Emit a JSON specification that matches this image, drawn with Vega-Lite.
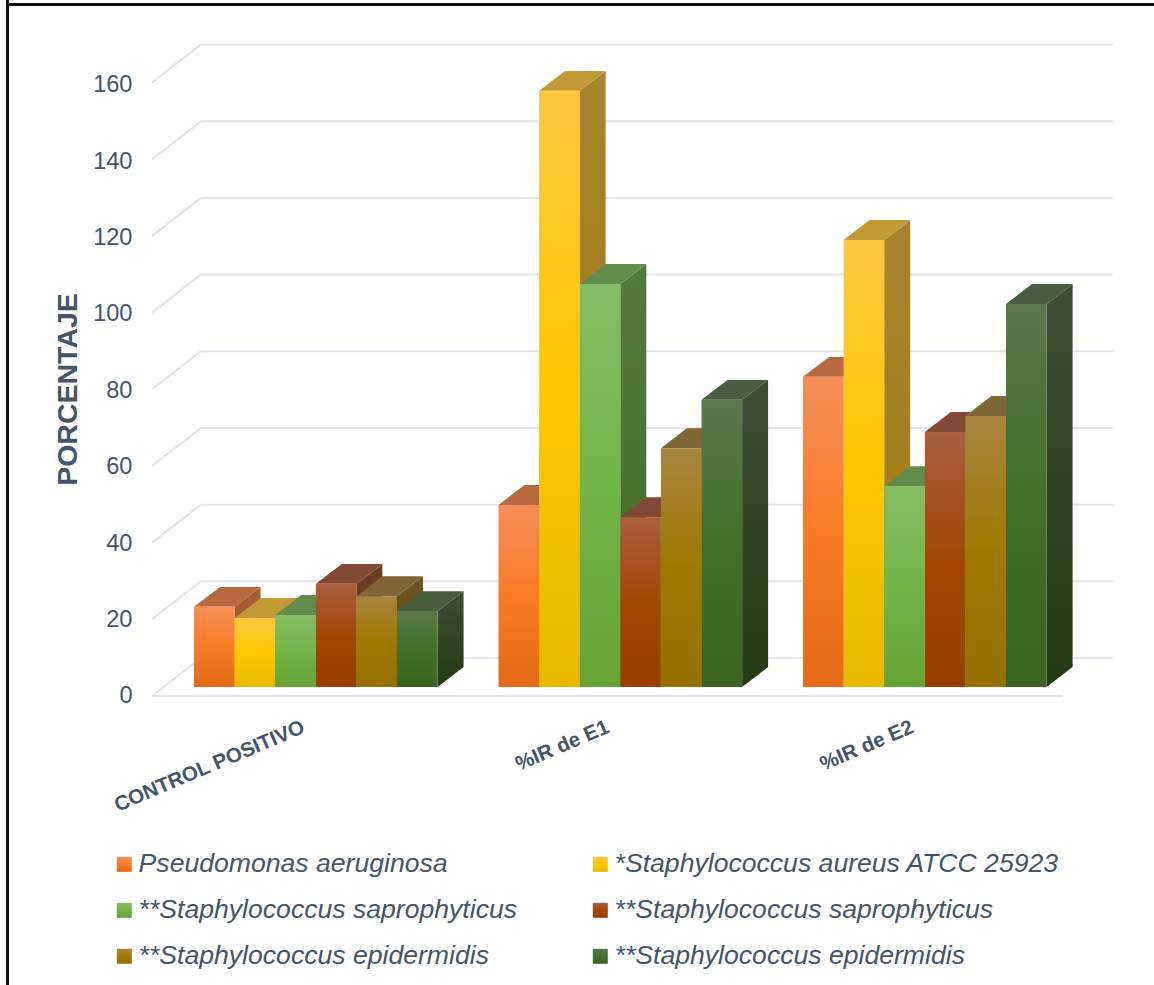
{
  "$schema": "https://vega.github.io/schema/vega-lite/v6.json",
  "width": 1154,
  "height": 985,
  "padding": 0,
  "autosize": {"type": "none"},
  "background": "white",
  "config": {"view": {"stroke": null}, "font": "Liberation Sans"},
  "resolve": {"axis": {"x": "independent", "y": "independent"}},
  "datasets": {
    "niveles": [
      {"nivel": 0}, {"nivel": 20}, {"nivel": 40}, {"nivel": 60}, {"nivel": 80},
      {"nivel": 100}, {"nivel": 120}, {"nivel": 140}, {"nivel": 160}
    ]
  },
  "data": {
    "values": [
      {"grupo": "CONTROL POSITIVO", "cepa": "pseudomonas", "porcentaje": 20.9},
      {"grupo": "CONTROL POSITIVO", "cepa": "aureus", "porcentaje": 18.0},
      {"grupo": "CONTROL POSITIVO", "cepa": "saprophyticus_a", "porcentaje": 18.8},
      {"grupo": "CONTROL POSITIVO", "cepa": "saprophyticus_b", "porcentaje": 26.9},
      {"grupo": "CONTROL POSITIVO", "cepa": "epidermidis_a", "porcentaje": 23.7},
      {"grupo": "CONTROL POSITIVO", "cepa": "epidermidis_b", "porcentaje": 19.8},
      {"grupo": "%IR de E1", "cepa": "pseudomonas", "porcentaje": 47.5},
      {"grupo": "%IR de E1", "cepa": "aureus", "porcentaje": 155.5},
      {"grupo": "%IR de E1", "cepa": "saprophyticus_a", "porcentaje": 105.1},
      {"grupo": "%IR de E1", "cepa": "saprophyticus_b", "porcentaje": 44.3},
      {"grupo": "%IR de E1", "cepa": "epidermidis_a", "porcentaje": 62.3},
      {"grupo": "%IR de E1", "cepa": "epidermidis_b", "porcentaje": 74.9},
      {"grupo": "%IR de E2", "cepa": "pseudomonas", "porcentaje": 80.9},
      {"grupo": "%IR de E2", "cepa": "aureus", "porcentaje": 116.6},
      {"grupo": "%IR de E2", "cepa": "saprophyticus_a", "porcentaje": 52.4},
      {"grupo": "%IR de E2", "cepa": "saprophyticus_b", "porcentaje": 66.5},
      {"grupo": "%IR de E2", "cepa": "epidermidis_a", "porcentaje": 70.7},
      {"grupo": "%IR de E2", "cepa": "epidermidis_b", "porcentaje": 99.9}
    ]
  },
  "transform": [
    {"calculate": "indexof(['CONTROL POSITIVO','%IR de E1','%IR de E2'], datum.grupo)", "as": "g"},
    {"calculate": "indexof(['pseudomonas','aureus','saprophyticus_a','saprophyticus_b','epidermidis_a','epidermidis_b'], datum.cepa)", "as": "s"},
    {"calculate": "7.5 * datum.g + datum.s", "as": "u0"},
    {"calculate": "datum.u0 + 1", "as": "u1"}
  ],
  "layer": [
    {
      "description": "Back wall gridlines",
      "data": {"name": "niveles"},
      "transform": [{"calculate": "datum.nivel + 7.56", "as": "fondo"}],
      "mark": {"type": "rule", "color": "#E1E4EC", "strokeWidth": 2},
      "encoding": {
        "x": {"datum": 0.17, "type": "quantitative", "scale": {"domain": [-4.7783, 23.645]}, "axis": null},
        "x2": {"datum": 22.635},
        "y": {"field": "fondo", "type": "quantitative", "scale": {"domain": [-77.73, 179.19]}, "axis": null}
      }
    },
    {
      "description": "Side wall gridlines running from the back wall to the front edge",
      "data": {"name": "niveles"},
      "transform": [
        {"calculate": "datum.nivel + 7.56", "as": "fondo"},
        {"calculate": "datum.nivel - 2.35", "as": "frente"}
      ],
      "mark": {"type": "rule", "color": "#E1E4EC", "strokeWidth": 2},
      "encoding": {
        "x": {"datum": -1.034, "type": "quantitative", "scale": {"domain": [-4.7783, 23.645]}, "axis": null},
        "x2": {"datum": 0.17},
        "y": {"field": "frente", "type": "quantitative", "scale": {"domain": [-77.73, 179.19]}, "axis": null},
        "y2": {"field": "fondo"}
      }
    },
    {
      "description": "Front edge of the floor",
      "mark": {"type": "rule", "color": "#E1E4EC", "strokeWidth": 2},
      "encoding": {
        "x": {"datum": -1.034, "type": "quantitative", "scale": {"domain": [-4.7783, 23.645]}, "axis": null},
        "x2": {"datum": 21.4},
        "y": {"datum": -2.35, "type": "quantitative", "scale": {"domain": [-77.73, 179.19]}, "axis": null}
      }
    },
    {
      "description": "Right-hand faces of the bars",
      "transform": [
        {"calculate": "[0, 1]", "as": "t"},
        {"flatten": ["t"]},
        {"calculate": "datum.u1 + 0.64 * datum.t", "as": "xs"},
        {"calculate": "5.2 * datum.t", "as": "ybase"},
        {"calculate": "datum.porcentaje + 5.2 * datum.t", "as": "ytop"}
      ],
      "mark": {"type": "area", "orient": "vertical", "line": false},
      "encoding": {
        "detail": {"field": "u0", "type": "quantitative"},
        "x": {"field": "xs", "type": "quantitative", "scale": {"domain": [-4.7783, 23.645]}, "axis": null},
        "y": {"field": "ytop", "type": "quantitative", "scale": {"domain": [-77.73, 179.19]}, "axis": null},
        "y2": {"field": "ybase"},
        "fill": {
          "condition": [
            {"test": "datum.s === 0", "value": {"gradient": "linear", "x1": 0, "y1": 0, "x2": 0, "y2": 1, "stops": [{"offset": 0, "color": "#A85E35"}, {"offset": 1, "color": "#9E4F14"}]}},
            {"test": "datum.s === 1", "value": {"gradient": "linear", "x1": 0, "y1": 0, "x2": 0, "y2": 1, "stops": [{"offset": 0, "color": "#A8842E"}, {"offset": 1, "color": "#A07A0C"}]}},
            {"test": "datum.s === 2", "value": {"gradient": "linear", "x1": 0, "y1": 0, "x2": 0, "y2": 1, "stops": [{"offset": 0, "color": "#557B3F"}, {"offset": 1, "color": "#3F6A22"}]}},
            {"test": "datum.s === 3", "value": {"gradient": "linear", "x1": 0, "y1": 0, "x2": 0, "y2": 1, "stops": [{"offset": 0, "color": "#6E3F2A"}, {"offset": 1, "color": "#5F2B00"}]}},
            {"test": "datum.s === 4", "value": {"gradient": "linear", "x1": 0, "y1": 0, "x2": 0, "y2": 1, "stops": [{"offset": 0, "color": "#6E5628"}, {"offset": 1, "color": "#5E4600"}]}}
          ],
          "value": {"gradient": "linear", "x1": 0, "y1": 0, "x2": 0, "y2": 1, "stops": [{"offset": 0, "color": "#3C4F34"}, {"offset": 1, "color": "#223C12"}]}
        }
      }
    },
    {
      "description": "Top faces of the bars",
      "transform": [
        {"calculate": "[0, 1]", "as": "t"},
        {"flatten": ["t"]},
        {"calculate": "datum.u0 + 0.64 * datum.t", "as": "xa"},
        {"calculate": "datum.u1 + 0.64 * datum.t", "as": "xb"},
        {"calculate": "datum.porcentaje + 5.2 * datum.t", "as": "ytop"}
      ],
      "mark": {"type": "area", "orient": "horizontal", "line": false},
      "encoding": {
        "detail": {"field": "u0", "type": "quantitative"},
        "x": {"field": "xa", "type": "quantitative", "scale": {"domain": [-4.7783, 23.645]}, "axis": null},
        "x2": {"field": "xb"},
        "y": {"field": "ytop", "type": "quantitative", "scale": {"domain": [-77.73, 179.19]}, "axis": null},
        "fill": {
          "condition": [
            {"test": "datum.s === 0", "value": "#B86A3E"},
            {"test": "datum.s === 1", "value": "#C29A35"},
            {"test": "datum.s === 2", "value": "#628C4C"},
            {"test": "datum.s === 3", "value": "#824A34"},
            {"test": "datum.s === 4", "value": "#7F6636"}
          ],
          "value": "#465E3E"
        }
      }
    },
    {
      "description": "Front faces of the bars; they also carry the axes and the legend",
      "mark": {"type": "rect"},
      "encoding": {
        "x": {
          "field": "u0",
          "type": "quantitative",
          "scale": {"domain": [-4.7783, 23.645]},
          "axis": {
            "orient": "bottom",
            "offset": -259,
            "title": null,
            "grid": false,
            "domain": false,
            "ticks": false,
            "values": [2.69, 10.19, 17.69],
            "labelExpr": "datum.value < 5 ? 'CONTROL POSITIVO' : datum.value < 15 ? '%IR de E1' : '%IR de E2'",
            "labelAngle": -23,
            "labelAlign": "right",
            "labelBaseline": "middle",
            "labelPadding": 0,
            "labelLimit": 400,
            "labelFont": "Liberation Sans",
            "labelFontSize": 20.6,
            "labelFontWeight": "bold",
            "labelColor": "#44546A",
            "labelOverlap": false,
            "labelBound": false,
            "labelFlush": false
          }
        },
        "x2": {"field": "u1"},
        "y": {
          "field": "porcentaje",
          "type": "quantitative",
          "scale": {"domain": [-77.73, 179.19]},
          "axis": {
            "orient": "left",
            "offset": -132,
            "title": "PORCENTAJE",
            "titleFont": "Liberation Sans",
            "titleFontSize": 28.5,
            "titleFontWeight": "bold",
            "titleColor": "#44546A",
            "titleX": -65,
            "titleY": 389,
            "titleAngle": -90,
            "titleAlign": "center",
            "titleBaseline": "middle",
            "grid": false,
            "domain": false,
            "ticks": false,
            "values": [0, 20, 40, 60, 80, 100, 120, 140, 160],
            "labelPadding": 0,
            "labelOffset": {"expr": "8.8 + 0.015 * datum.value"},
            "labelFont": "Liberation Sans",
            "labelFontSize": 23.6,
            "labelColor": "#44546A",
            "labelOverlap": false,
            "labelBound": false,
            "labelFlush": false
          }
        },
        "y2": {"datum": 0},
        "fill": {
          "field": "cepa",
          "type": "nominal",
          "scale": {
            "domain": ["pseudomonas", "aureus", "saprophyticus_a", "saprophyticus_b", "epidermidis_a", "epidermidis_b"],
            "range": [
              {"expr": "{gradient: 'linear', x1: 0, y1: 0, x2: 0, y2: 1, stops: [{offset: 0, color: '#F58E58'}, {offset: 0.5, color: '#F97B24'}, {offset: 1, color: '#E46A17'}]}"},
              {"expr": "{gradient: 'linear', x1: 0, y1: 0, x2: 0, y2: 1, stops: [{offset: 0, color: '#FFC640'}, {offset: 0.5, color: '#FFC800'}, {offset: 1, color: '#E8B800'}]}"},
              {"expr": "{gradient: 'linear', x1: 0, y1: 0, x2: 0, y2: 1, stops: [{offset: 0, color: '#84BD64'}, {offset: 0.5, color: '#72B548'}, {offset: 1, color: '#66A335'}]}"},
              {"expr": "{gradient: 'linear', x1: 0, y1: 0, x2: 0, y2: 1, stops: [{offset: 0, color: '#AA5F3E'}, {offset: 0.5, color: '#A44606'}, {offset: 1, color: '#9A3E00'}]}"},
              {"expr": "{gradient: 'linear', x1: 0, y1: 0, x2: 0, y2: 1, stops: [{offset: 0, color: '#A8853F'}, {offset: 0.5, color: '#A07800'}, {offset: 1, color: '#967000'}]}"},
              {"expr": "{gradient: 'linear', x1: 0, y1: 0, x2: 0, y2: 1, stops: [{offset: 0, color: '#5A784A'}, {offset: 0.5, color: '#43702B'}, {offset: 1, color: '#3A6320'}]}"}
            ]
          },
          "legend": {
            "orient": "none",
            "legendX": 111,
            "legendY": 851,
            "columns": 2,
            "direction": "horizontal",
            "title": null,
            "symbolType": "square",
            "symbolSize": 225,
            "symbolStrokeWidth": 0,
            "symbolOpacity": 1,
            "labelOffset": 1,
            "labelFont": "Liberation Sans",
            "labelFontSize": 26.6,
            "labelFontStyle": "italic",
            "labelColor": "#44546A",
            "labelLimit": 500,
            "columnPadding": 69,
            "rowPadding": 19,
            "labelExpr": "{'pseudomonas':'Pseudomonas aeruginosa','aureus':'*Staphylococcus aureus ATCC 25923','saprophyticus_a':'**Staphylococcus saprophyticus','saprophyticus_b':'**Staphylococcus saprophyticus','epidermidis_a':'**Staphylococcus epidermidis','epidermidis_b':'**Staphylococcus epidermidis'}[datum.value]"
          }
        }
      }
    },
    {
      "description": "Chart frame, left edge",
      "mark": {"type": "rule", "color": "#111111", "strokeWidth": 2},
      "encoding": {
        "x": {"datum": -4.6, "type": "quantitative", "scale": {"domain": [-4.7783, 23.645]}, "axis": null}
      }
    },
    {
      "description": "Chart frame, top edge",
      "mark": {"type": "rule", "color": "#111111", "strokeWidth": 2},
      "encoding": {
        "x": {"datum": -4.6, "type": "quantitative", "scale": {"domain": [-4.7783, 23.645]}, "axis": null},
        "x2": {"datum": 23.645},
        "y": {"datum": 178.0, "type": "quantitative", "scale": {"domain": [-77.73, 179.19]}, "axis": null}
      }
    }
  ]
}
